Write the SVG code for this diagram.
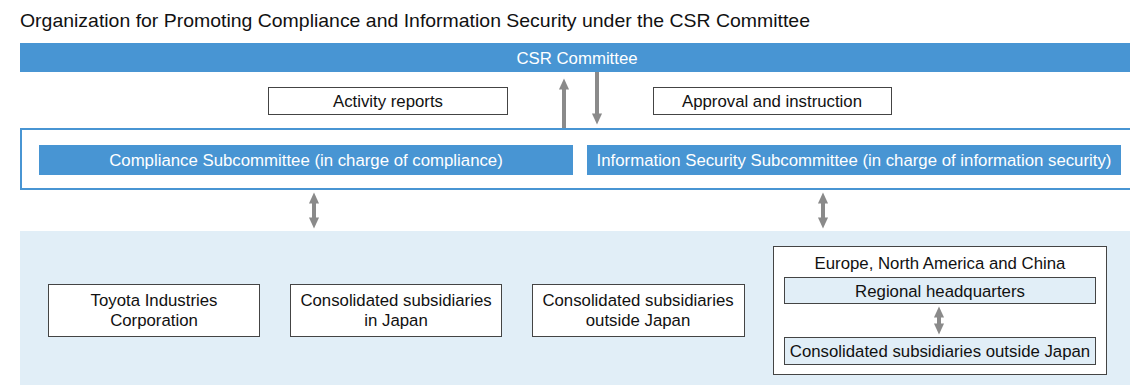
<svg xmlns="http://www.w3.org/2000/svg" width="1130" height="385" viewBox="0 0 1130 385">
<style>
text{font-family:"Liberation Sans",Arial,sans-serif;}
.t{font-size:16.8px;fill:#111;text-anchor:middle;}
.w{font-size:16.8px;fill:#fff;text-anchor:middle;}
.box{fill:#fff;stroke:#444;stroke-width:1;}
.lbox{fill:#e1eef7;stroke:#444;stroke-width:1;}
.blue{fill:#4895d3;}
.arr{stroke:#8a8a8a;stroke-width:4;fill:none;}
</style>
<defs>
<marker id="ah" viewBox="0 0 10 10" refX="5" refY="5" markerWidth="2.8" markerHeight="2.8" orient="auto-start-reverse" markerUnits="strokeWidth">
<path d="M0,0.5 L10,5 L0,9.5 Z" fill="#8a8a8a"/>
</marker>
</defs>
<rect width="1130" height="385" fill="#fff"/>
<text x="20" y="27" textLength="790" lengthAdjust="spacingAndGlyphs" style="font-size:19px;fill:#111">Organization for Promoting Compliance and Information Security under the CSR Committee</text>
<g id="csr"><rect class="blue" x="20" y="43" width="1110" height="29"/><text class="w" x="577" y="64">CSR Committee</text></g>
<g id="activity"><rect class="box" x="268.5" y="87.5" width="239" height="27"/><text class="t" x="388" y="107">Activity reports</text></g>
<g id="approval"><rect class="box" x="653.5" y="87.5" width="238" height="27"/><text class="t" x="772" y="107">Approval and instruction</text></g>
<g id="subcommittees">
<rect x="21" y="129" width="1112" height="60" fill="#fff" stroke="#4895d3" stroke-width="2"/>
</g>
<g id="compliance"><rect class="blue" x="39" y="145" width="534" height="30"/><text class="w" x="306" y="166">Compliance Subcommittee (in charge of compliance)</text></g>
<g id="infosec"><rect class="blue" x="587" y="145" width="534" height="30"/><text class="w" x="854" y="166">Information Security Subcommittee (in charge of information security)</text></g>
<g id="group-area"><rect x="20" y="231" width="1110" height="154" fill="#e1eef7"/></g>
<g id="toyota"><rect class="box" x="48.5" y="284.5" width="211" height="52"/><text class="t" x="154" y="306">Toyota Industries</text><text class="t" x="154" y="326">Corporation</text></g>
<g id="cons-japan"><rect class="box" x="290.5" y="284.5" width="211" height="52"/><text class="t" x="396" y="306">Consolidated subsidiaries</text><text class="t" x="396" y="326">in Japan</text></g>
<g id="cons-outside"><rect class="box" x="532.5" y="284.5" width="212" height="52"/><text class="t" x="638" y="306">Consolidated subsidiaries</text><text class="t" x="638" y="326">outside Japan</text></g>
<g id="regional-group"><rect class="box" x="773.5" y="246.5" width="333" height="128"/><text class="t" x="940" y="269">Europe, North America and China</text></g>
<g id="regional-hq"><rect class="lbox" x="784.5" y="277.5" width="311" height="26"/><text class="t" x="940" y="297">Regional headquarters</text></g>
<g id="cons-outside-2"><rect class="lbox" x="784.5" y="337.5" width="311" height="27"/><text class="t" x="940" y="357">Consolidated subsidiaries outside Japan</text></g>
<g id="connectors">
<line class="arr" x1="564" y1="128" x2="564" y2="84" marker-end="url(#ah)"/>
<line class="arr" x1="597" y1="72" x2="597" y2="119" marker-end="url(#ah)"/>
<line class="arr" x1="314" y1="198" x2="314" y2="223" marker-start="url(#ah)" marker-end="url(#ah)"/>
<line class="arr" x1="823" y1="198" x2="823" y2="223" marker-start="url(#ah)" marker-end="url(#ah)"/>
<line class="arr" x1="939" y1="312" x2="939" y2="329" marker-start="url(#ah)" marker-end="url(#ah)"/>
</g>
</svg>
